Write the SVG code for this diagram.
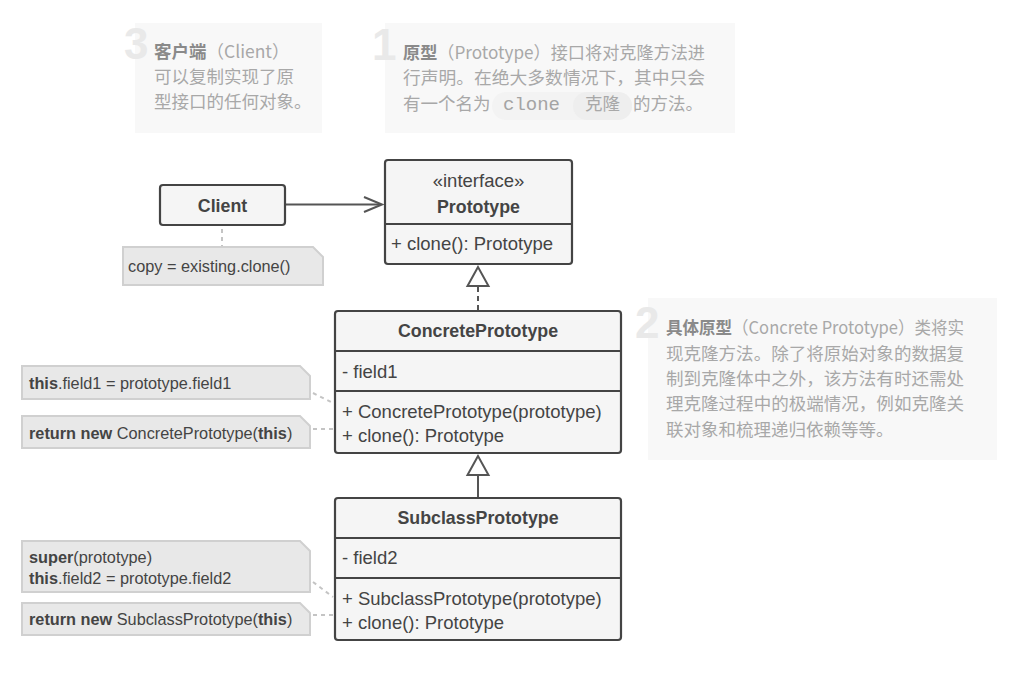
<svg xmlns="http://www.w3.org/2000/svg" width="1029" height="690" viewBox="0 0 1029 690">
<style>
.bg{fill:#f8f8f8}
.num{font-family:"Liberation Sans",sans-serif;font-weight:bold;font-size:44px;fill:#e9e9e9}
.cjk{font-family:"Noto Sans CJK SC",sans-serif;font-size:17.5px;fill:#a8a8a8}
.cjk .b{font-weight:bold;fill:#8a8a8a}
.code{font-family:"Liberation Mono",monospace;font-size:19px;fill:#a4a4a4}
.box{fill:#f5f5f5;stroke:#444;stroke-width:2.2}
.div{stroke:#444;stroke-width:2.2}
.title{font-family:"Liberation Sans",sans-serif;font-weight:bold;font-size:17.8px;fill:#444;text-anchor:middle}
.mem{font-family:"Liberation Sans",sans-serif;font-size:18.5px;fill:#444}
.mem.c{text-anchor:middle}
.note{fill:#e8e8e8;stroke:#d0d0d0;stroke-width:2}
.ntext{font-family:"Liberation Sans",sans-serif;font-size:16.3px;fill:#444}
.ntext .b{font-weight:bold}
.rel{stroke:#555;stroke-width:2;fill:none}
.tri{stroke:#555;stroke-width:2;fill:#fff}
.dash{stroke:#555;stroke-width:2;stroke-dasharray:5 4;fill:none}
.ndash{stroke:#c4c4c4;stroke-width:2;stroke-dasharray:4 4;fill:none}
</style>

<g id="desc3">
<rect class="bg" x="135" y="23" width="187" height="110"/>
<text class="num" x="124" y="59">3</text>
<text class="cjk" x="154" y="58"><tspan class="b">客户端</tspan>（Client）</text>
<text class="cjk" x="154" y="83">可以复制实现了原</text>
<text class="cjk" x="154" y="108">型接口的任何对象。</text>
</g>

<g id="desc1">
<rect class="bg" x="385" y="23" width="350" height="110"/>
<text class="num" x="372" y="60">1</text>
<text class="cjk" x="403" y="59" textLength="302" lengthAdjust="spacingAndGlyphs"><tspan class="b">原型</tspan>（Prototype）接口将对克隆方法进</text>
<text class="cjk" x="403" y="84" textLength="302" lengthAdjust="spacingAndGlyphs">行声明。在绝大多数情况下，其中只会</text>
<rect x="492" y="92" width="140" height="28" rx="14" fill="#f3f3f3"/>
<rect x="573" y="92" width="59" height="28" rx="14" fill="#eeeeee"/>
<text class="cjk" x="403" y="110">有一个名为</text>
<text class="code" x="503" y="110">clone</text>
<text class="cjk" x="585" y="110">克隆</text>
<text class="cjk" x="633" y="110">的方法。</text>
</g>

<g id="desc2">
<rect class="bg" x="648" y="298" width="349" height="162"/>
<text class="num" x="635" y="338">2</text>
<text class="cjk" x="666" y="334" textLength="298" lengthAdjust="spacingAndGlyphs"><tspan class="b">具体原型</tspan>（Concrete Prototype）类将实</text>
<text class="cjk" x="666" y="359.5" textLength="298" lengthAdjust="spacingAndGlyphs">现克隆方法。除了将原始对象的数据复</text>
<text class="cjk" x="666" y="385" textLength="298" lengthAdjust="spacingAndGlyphs">制到克隆体中之外，该方法有时还需处</text>
<text class="cjk" x="666" y="410" textLength="298" lengthAdjust="spacingAndGlyphs">理克隆过程中的极端情况，例如克隆关</text>
<text class="cjk" x="666" y="435.5">联对象和梳理递归依赖等等。</text>
</g>

<g id="connectors">
<line class="rel" x1="286" y1="204.5" x2="381" y2="204.5"/>
<polyline class="rel" points="364,197 382,204.5 364,212"/>
<line class="dash" x1="478" y1="287" x2="478" y2="311"/>
<polygon class="tri" points="478,267 467.5,286 488.5,286"/>
<line class="rel" x1="478" y1="475" x2="478" y2="498"/>
<polygon class="tri" points="478,456 467.5,475 488.5,475"/>
<line class="ndash" x1="222" y1="229" x2="222" y2="246"/>
<line class="ndash" x1="313" y1="393" x2="333" y2="403"/>
<line class="ndash" x1="313" y1="429" x2="333" y2="429"/>
<line class="ndash" x1="313" y1="582" x2="333" y2="597"/>
<line class="ndash" x1="313" y1="615" x2="333" y2="615"/>
</g>

<g id="client">
<rect class="box" x="160" y="185" width="125" height="40" rx="3"/>
<text class="title" x="222.5" y="211.5">Client</text>
</g>

<g id="note-client">
<path class="note" d="M123,247 H313 L323,257 V285 H123 Z"/>
<text class="ntext" x="128" y="272">copy = existing.clone()</text>
</g>

<g id="prototype">
<rect class="box" x="385" y="160" width="187" height="104" rx="3"/>
<line class="div" x1="385" y1="224" x2="572" y2="224"/>
<text class="mem c" x="478.5" y="187">«interface»</text>
<text class="title" x="478.5" y="213">Prototype</text>
<text class="mem" x="391" y="250">+ clone(): Prototype</text>
</g>

<g id="concrete-prototype">
<rect class="box" x="335" y="311" width="286" height="142" rx="3"/>
<line class="div" x1="335" y1="351" x2="621" y2="351"/>
<line class="div" x1="335" y1="391" x2="621" y2="391"/>
<text class="title" x="478" y="337">ConcretePrototype</text>
<text class="mem" x="342" y="377.5">- field1</text>
<text class="mem" x="342" y="417.5">+ ConcretePrototype(prototype)</text>
<text class="mem" x="342" y="442">+ clone(): Prototype</text>
</g>

<g id="note-concrete-ctor">
<path class="note" d="M22,366 H300 L310,376 V399 H22 Z"/>
<text class="ntext" x="29" y="388.5"><tspan class="b">this</tspan>.field1 = prototype.field1</text>
</g>

<g id="note-concrete-clone">
<path class="note" d="M22,416 H300 L310,426 V448 H22 Z"/>
<text class="ntext" x="29" y="438.5"><tspan class="b">return new</tspan> ConcretePrototype(<tspan class="b">this</tspan>)</text>
</g>

<g id="subclass-prototype">
<rect class="box" x="335" y="498" width="286" height="142" rx="3"/>
<line class="div" x1="335" y1="538" x2="621" y2="538"/>
<line class="div" x1="335" y1="578" x2="621" y2="578"/>
<text class="title" x="478" y="524">SubclassPrototype</text>
<text class="mem" x="342" y="564">- field2</text>
<text class="mem" x="342" y="604.5">+ SubclassPrototype(prototype)</text>
<text class="mem" x="342" y="629">+ clone(): Prototype</text>
</g>

<g id="note-subclass-ctor">
<path class="note" d="M22,541 H300 L310,551 V592 H22 Z"/>
<text class="ntext" x="29" y="563"><tspan class="b">super</tspan>(prototype)</text>
<text class="ntext" x="29" y="584"><tspan class="b">this</tspan>.field2 = prototype.field2</text>
</g>

<g id="note-subclass-clone">
<path class="note" d="M22,603 H300 L310,613 V635 H22 Z"/>
<text class="ntext" x="29" y="624.5"><tspan class="b">return new</tspan> SubclassPrototype(<tspan class="b">this</tspan>)</text>
</g>
</svg>
